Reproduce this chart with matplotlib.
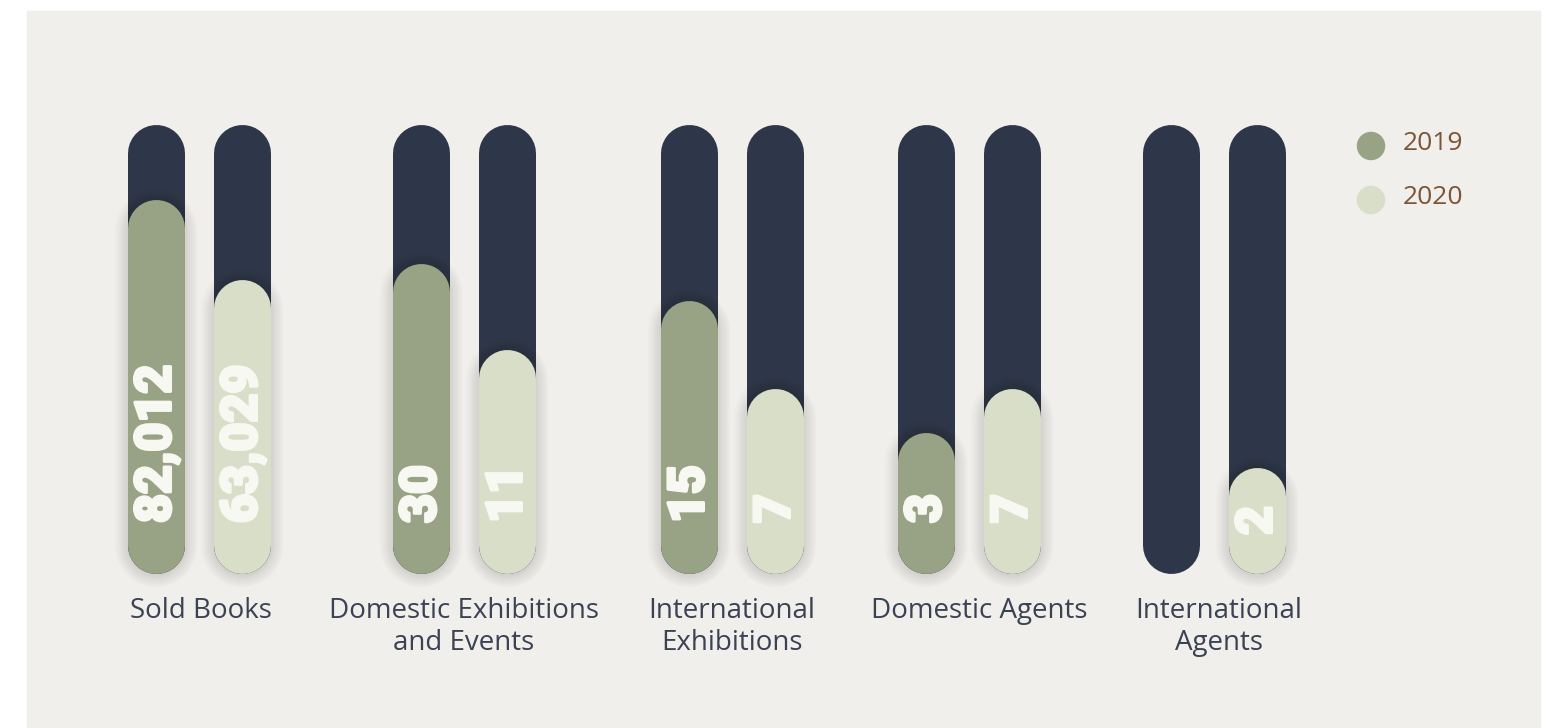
import matplotlib.pyplot as plt
import matplotlib.patheffects as pe
from matplotlib.patches import Rectangle

# data
categories = ["Sold Books", "Domestic Exhibitions\nand Events", "International\nExhibitions",
              "Domestic Agents", "International\nAgents"]
series = ["2019", "2020"]
values_2019 = ["82,012", "30", "15", "3", ""]
values_2020 = ["63,029", "11", "7", "7", "2"]
# filled share of each track, as drawn
fill_2019 = [0.831, 0.690, 0.608, 0.314, 0.0]
fill_2020 = [0.653, 0.497, 0.412, 0.412, 0.234]

# styles / layout
W, H = 1559, 728
BG = "#f0efeb"
TRACK = "#2e3649"
COLORS = ["#98a285", "#d8dec8"]
LABEL_C = "#3b4254"
LEGEND_C = "#7d5536"
NUM_C = "#f8f8f3"
group_x = [199, 464, 732, 969, 1214]
label_x = [201, 464, 732, 979, 1219]
offset = 43
track_top, track_bot = 124, 573
span = track_bot - track_top
bar_px = 57
r = bar_px / 2 / span
lw = bar_px * 72 / 100


def py(y):
    # pixel row -> data y
    return (track_bot - y) / span


fig = plt.figure(figsize=(W / 100, H / 100), dpi=100, facecolor="white")
ax = fig.add_axes([0, 0, 1, 1])
ax.set_facecolor("none")
ax.set_xlim(0, W)
ax.set_ylim(py(H), py(0))
ax.axis("off")
ax.add_patch(Rectangle((27, py(H)), 1540 - 27, py(11) - py(H), color=BG, zorder=0))

num_font = dict(family=["Roboto", "DejaVu Sans"], weight="black", fontsize=36,
                path_effects=[pe.withStroke(linewidth=2.2, foreground=NUM_C)])

for i, cx in enumerate(group_x):
    for j, (vals, fills) in enumerate([(values_2019, fill_2019), (values_2020, fill_2020)]):
        x = cx - offset if j == 0 else cx + offset
        ax.plot([x, x], [r, 1 - r], color=TRACK, lw=lw, solid_capstyle="round", zorder=1)
        f = fills[i]
        if f <= 0:
            continue
        # soft shadow
        for k in range(1, 8):
            ax.plot([x, x], [r - 0.004, f - r - 0.004], color="black", alpha=0.016,
                    lw=lw + k * 2.6, solid_capstyle="round", zorder=2)
        ax.plot([x, x], [r, f - r], color=COLORS[j], lw=lw, solid_capstyle="round", zorder=3)
        if vals[i]:
            if f < 0.25:
                ax.text(x + 1, f / 2, vals[i], rotation=90, ha="center", va="center",
                        rotation_mode="anchor", color=NUM_C, zorder=4, **num_font)
            else:
                ax.text(x + 1, py(523), vals[i], rotation=90, ha="left", va="center",
                        rotation_mode="anchor", color=NUM_C, zorder=4, **num_font)
    ax.text(label_x[i], py(597), categories[i], ha="center", va="top", color=LABEL_C,
            fontsize=20, family="Open Sans", linespacing=1.2)

for j, (name, yy) in enumerate(zip(series, [146, 200])):
    ax.scatter([1371], [py(yy)], s=420, color=COLORS[j], edgecolor="none", zorder=3)
    ax.text(1463, py(yy - 3), name, ha="right", va="center", color=LEGEND_C,
            fontsize=19, family="Open Sans")

fig.savefig("out.png", dpi=100, facecolor="white")
